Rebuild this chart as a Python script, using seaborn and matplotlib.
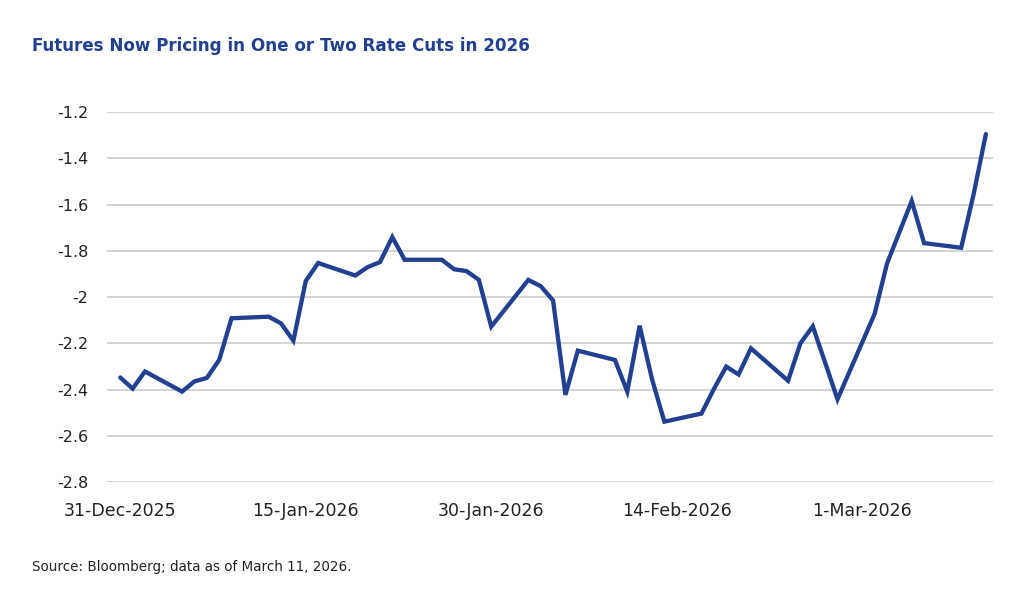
import pandas as pd
import matplotlib
matplotlib.use("Agg")
import matplotlib.pyplot as plt
import matplotlib.dates as mdates
import seaborn as sns

# business days from 31-Dec-2025 to 11-Mar-2026
dates = pd.bdate_range("2025-12-31", "2026-03-11")

# rate cuts priced for 2026
cuts_priced = [
    -2.348, -2.396, -2.322,                      # Dec 31 - Jan 2
    -2.409, -2.365, -2.350, -2.272, -2.092,      # Jan 5 - 9
    -2.085, -2.114, -2.189, -1.931, -1.853,      # Jan 12 - 16
    -1.907, -1.871, -1.849, -1.741, -1.839,      # Jan 19 - 23
    -1.839, -1.880, -1.888, -1.926, -2.128,      # Jan 26 - 30
    -1.926, -1.953, -2.015, -2.423, -2.232,      # Feb 2 - 6
    -2.272, -2.409, -2.124, -2.355, -2.539,      # Feb 9 - 13
    -2.504, -2.398, -2.301, -2.335, -2.222,      # Feb 16 - 20
    -2.362, -2.200, -2.127, -2.284, -2.442,      # Feb 23 - 27
    -2.073, -1.856, -1.720, -1.585, -1.767,      # Mar 2 - 6
    -1.787, -1.557, -1.295,                      # Mar 9 - 11
]

tick_dates = ["2025-12-31", "2026-01-15", "2026-01-30", "2026-02-14", "2026-03-01"]
y_ticks = [-2.8, -2.6, -2.4, -2.2, -2.0, -1.8, -1.6, -1.4, -1.2]
y_labels = ["-2.8", "-2.6", "-2.4", "-2.2", "-2", "-1.8", "-1.6", "-1.4", "-1.2"]

title = "Futures Now Pricing in One or Two Rate Cuts in 2026"
source = "Source: Bloomberg; data as of March 11, 2026."

df = pd.DataFrame({"date": dates, "value": cuts_priced})

sns.set_style("white")
plt.rcParams["font.family"] = ["DejaVu Sans"]

navy = "#233f8f"

fig = plt.figure(figsize=(10.33, 6.11), dpi=100)
ax = fig.add_axes([0.1036, 0.2111, 0.8574, 0.6056])

sns.lineplot(data=df, x="date", y="value", ax=ax, color=navy, linewidth=3.1,
             solid_joinstyle="miter", zorder=3)

ax.set_ylim(-2.8, -1.2)
ax.set_xlim(pd.Timestamp("2025-12-31") - pd.Timedelta(days=1.07),
            pd.Timestamp("2025-12-31") + pd.Timedelta(days=70.55))
ax.set_yticks(y_ticks)
ax.set_yticklabels(y_labels)
ax.set_xticks(pd.to_datetime(tick_dates))
ax.xaxis.set_major_formatter(mdates.DateFormatter("%-d-%b-%Y"))

ax.grid(axis="y", color="#d0d0d0", linewidth=1.3)
ax.grid(axis="x", visible=False)
for s in ax.spines.values():
    s.set_visible(False)
ax.tick_params(axis="both", length=0, colors="#222222")
ax.tick_params(axis="y", pad=13.5, labelsize=11.5)
ax.tick_params(axis="x", pad=14.5, labelsize=12.5)
ax.set_xlabel("")
ax.set_ylabel("")

fig.text(0.031, 0.925, title, fontsize=12.1, fontweight="bold", color=navy,
         ha="left", va="center")
fig.text(0.031, 0.072, source, fontsize=9.75, color="#222222", ha="left", va="center")

fig.savefig("out.png", dpi=100)
